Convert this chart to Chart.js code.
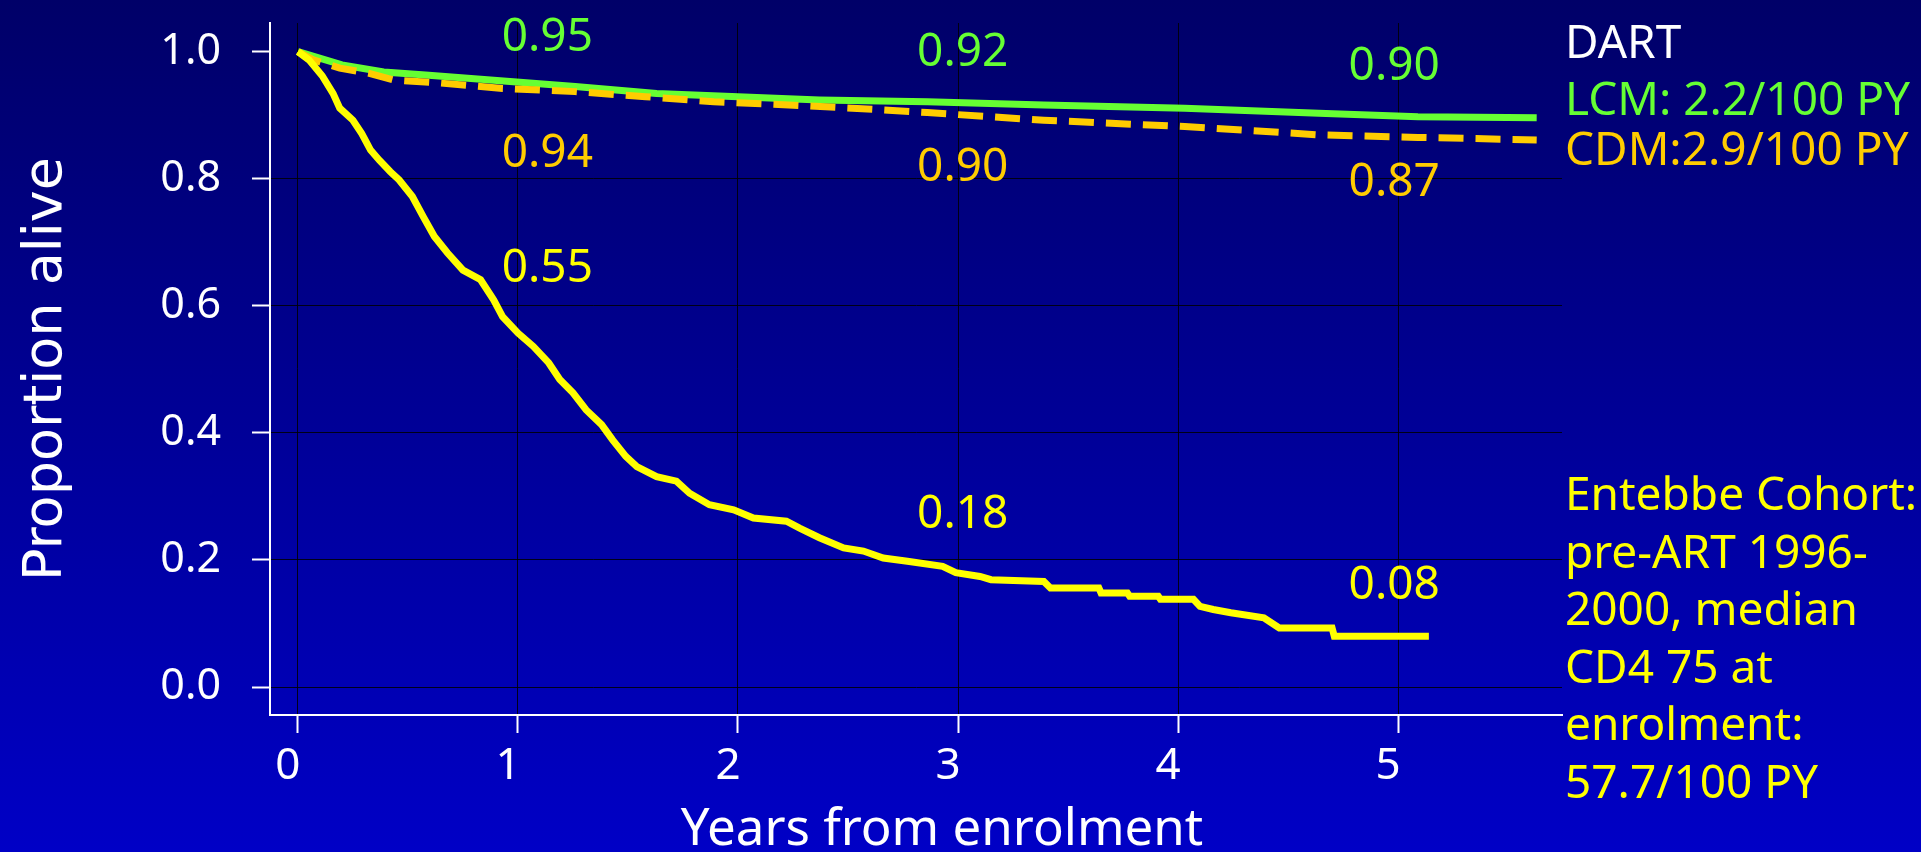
<!DOCTYPE html>
<html>
<head>
<meta charset="utf-8">
<script src="https://cdn.jsdelivr.net/npm/chart.js@4.4.0/dist/chart.umd.min.js"></script>
<style>
  html, body { margin: 0; padding: 0; }
  body {
    width: 1921px; height: 852px; overflow: hidden;
    background: linear-gradient(to bottom, #000068 0%, #0000c6 100%);
  }
  canvas { display: block; }
</style>
</head>
<body>
<canvas id="supervivenciaChart" width="1921" height="852"></canvas>
<script>
// Datos (Kaplan-Meier)
const entebbeX = [0, 0.05, 0.11, 0.16, 0.19, 0.25, 0.29, 0.33, 0.37, 0.42, 0.46, 0.52, 0.57, 0.62, 0.68,
  0.75, 0.83, 0.89, 0.93, 1.00, 1.07, 1.14, 1.19, 1.25, 1.31, 1.38, 1.43, 1.49, 1.54, 1.63, 1.72, 1.78,
  1.87, 1.98, 2.07, 2.22, 2.28, 2.37, 2.48, 2.57, 2.66, 2.77, 2.93, 2.99, 3.10, 3.15, 3.39, 3.42, 3.64,
  3.65, 3.77, 3.78, 3.91, 3.92, 4.07, 4.10, 4.16, 4.24, 4.39, 4.46, 4.70, 4.71, 5.14];
const entebbeY = [1.0, 0.987, 0.962, 0.934, 0.911, 0.892, 0.871, 0.845, 0.829, 0.811, 0.798, 0.772, 0.740, 0.709, 0.683,
  0.656, 0.641, 0.609, 0.583, 0.557, 0.536, 0.510, 0.484, 0.463, 0.436, 0.413, 0.389, 0.363, 0.347, 0.331, 0.324, 0.305,
  0.287, 0.279, 0.266, 0.261, 0.250, 0.235, 0.219, 0.214, 0.203, 0.198, 0.190, 0.180, 0.174, 0.169, 0.166, 0.156, 0.156,
  0.148, 0.148, 0.143, 0.143, 0.138, 0.138, 0.127, 0.122, 0.117, 0.109, 0.093, 0.093, 0.080, 0.080];

const lcmX = [0, 0.2, 0.39, 0.58, 0.89, 1.26, 1.63, 2.0, 2.37, 2.86, 3.39, 4.03, 4.64, 5.09, 5.63];
const lcmY = [1.0, 0.979, 0.968, 0.963, 0.955, 0.945, 0.934, 0.929, 0.924, 0.921, 0.916, 0.911, 0.903, 0.8975, 0.896];

const cdmX = [0, 0.07, 0.19, 0.32, 0.44, 0.63, 0.93, 1.26, 1.58, 1.89, 2.23, 2.52, 2.86, 3.39, 4.03, 4.64, 5.09, 5.63];
const cdmY = [1.0, 0.987, 0.974, 0.966, 0.955, 0.951, 0.942, 0.937, 0.929, 0.921, 0.916, 0.911, 0.904, 0.892, 0.882, 0.869, 0.865, 0.861];

const xTicks = [0, 1, 2, 3, 4, 5];
const yTicks = [0, 0.2, 0.4, 0.6, 0.8, 1.0];

// Etiquetas de valores a 1, 3 y 5 anios
const columnasX = [0.926, 2.814, 4.775];
const lcmTextos = ['0.95', '0.92', '0.90'];
const lcmTextosY = [1.026, 1.003, 0.981];
const cdmTextos = ['0.94', '0.90', '0.87'];
const cdmTextosY = [0.845, 0.822, 0.798];
const entebbeTextos = ['0.55', '0.18', '0.08'];
const entebbeTextosY = [0.664, 0.276, 0.164];

const tituloX = 'Years from enrolment';
const tituloY = 'Proportion alive';
const leyendaDart = ['DART', 'LCM: 2.2/100 PY', 'CDM:2.9/100 PY'];
const leyendaEntebbe = ['Entebbe Cohort:', 'pre-ART 1996-', '2000, median', 'CD4 75 at', 'enrolment:', '57.7/100 PY'];

// Colores
const verde = '#66ff33';
const naranja = '#ffcc00';
const amarillo = '#ffff00';
const blanco = '#ffffff';

const fuenteNum = "'Noto Sans', sans-serif";
const fuenteLeyenda = "'Noto Sans', sans-serif";

const puntos = (xs, ys) => xs.map((v, i) => ({ x: v, y: ys[i] }));

const textoPlugin = {
  id: 'textoCurvas',
  afterDatasetsDraw(chart) {
    const { ctx, scales: { x, y }, chartArea } = chart;
    ctx.save();
    ctx.textAlign = 'left';
    ctx.textBaseline = 'alphabetic';

    // valores sobre las curvas
    const size = 46;
    ctx.font = `${size}px ${fuenteNum}`;
    const mitadCap = size * 0.357;
    [[lcmTextos, lcmTextosY, verde], [cdmTextos, cdmTextosY, naranja], [entebbeTextos, entebbeTextosY, amarillo]]
      .forEach(([textos, ys, color]) => {
        ctx.fillStyle = color;
        textos.forEach((t, i) => {
          ctx.fillText(t, x.getPixelForValue(columnasX[i]), y.getPixelForValue(ys[i]) + mitadCap);
        });
      });

    // leyenda a la derecha
    ctx.font = `46px ${fuenteLeyenda}`;
    const lx = chartArea.right + 3;
    const coloresDart = [blanco, verde, naranja];
    const lineasDart = [58, 115, 165];
    leyendaDart.forEach((t, i) => {
      ctx.fillStyle = coloresDart[i];
      ctx.fillText(t, lx, lineasDart[i]);
    });
    ctx.fillStyle = amarillo;
    leyendaEntebbe.forEach((t, i) => {
      ctx.fillText(t, lx, 510 + i * 57.6);
    });

    // titulo del eje x (algo desplazado a la derecha como en el original)
    ctx.font = `51px ${fuenteNum}`;
    ctx.fillStyle = blanco;
    ctx.textAlign = 'center';
    ctx.fillText(tituloX, (chartArea.left + chartArea.right) / 2 + 26, 845);
    ctx.restore();
  }
};

const ctx = document.getElementById('supervivenciaChart').getContext('2d');
new Chart(ctx, {
  type: 'line',
  data: {
    datasets: [
      {
        label: 'Entebbe Cohort',
        data: puntos(entebbeX, entebbeY),
        borderColor: amarillo,
        borderWidth: 7,
        order: 0
      },
      {
        label: 'CDM',
        data: puntos(cdmX, cdmY),
        borderColor: naranja,
        borderWidth: 7,
        borderDash: [25, 12],
        order: 1
      },
      {
        label: 'LCM',
        data: puntos(lcmX, lcmY),
        borderColor: verde,
        borderWidth: 7,
        order: 2
      }
    ]
  },
  options: {
    responsive: false,
    animation: false,
    devicePixelRatio: 1,
    layout: { padding: { top: 23, right: 359, left: 0, bottom: 0 } },
    elements: {
      point: { radius: 0 },
      line: { tension: 0, fill: false }
    },
    plugins: {
      legend: { display: false },
      tooltip: { enabled: false }
    },
    scales: {
      x: {
        type: 'linear',
        min: -0.127,
        max: 5.745,
        afterBuildTicks: scale => { scale.ticks = xTicks.map(v => ({ value: v })); },
        afterFit: scale => {
          scale.height = 137;
          scale.paddingLeft = 0;
          scale.paddingRight = 0;
        },
        ticks: {
          color: blanco,
          font: { family: fuenteNum, size: 44 },
          padding: 7,
          labelOffset: -10,
          maxRotation: 0,
          callback: v => String(v)
        },
        grid: {
          color: 'rgba(0,0,0,0.85)',
          lineWidth: 1,
          tickColor: blanco,
          tickLength: 18,
          tickWidth: 2
        },
        border: { color: blanco, width: 2 },
        title: { display: false }
      },
      y: {
        type: 'linear',
        min: -0.044,
        max: 1.045,
        afterBuildTicks: scale => { scale.ticks = yTicks.map(v => ({ value: v })); },
        afterFit: scale => {
          scale.width = 270;
          scale.paddingTop = 0;
          scale.paddingBottom = 0;
        },
        ticks: {
          color: blanco,
          font: { family: fuenteNum, size: 43 },
          padding: 31,
          callback: v => v.toFixed(1)
        },
        grid: {
          color: c => (c.tick && c.tick.value === 1 ? 'rgba(0,0,0,0)' : 'rgba(0,0,0,0.85)'),
          lineWidth: 1,
          tickColor: blanco,
          tickLength: 18,
          tickWidth: 2
        },
        border: { color: blanco, width: 2 },
        title: {
          display: true,
          text: tituloY,
          color: blanco,
          font: { family: "'DejaVu Sans', sans-serif", size: 54 },
          padding: { top: 15, bottom: 0 }
        }
      }
    }
  },
  plugins: [textoPlugin]
});
</script>
</body>
</html>
